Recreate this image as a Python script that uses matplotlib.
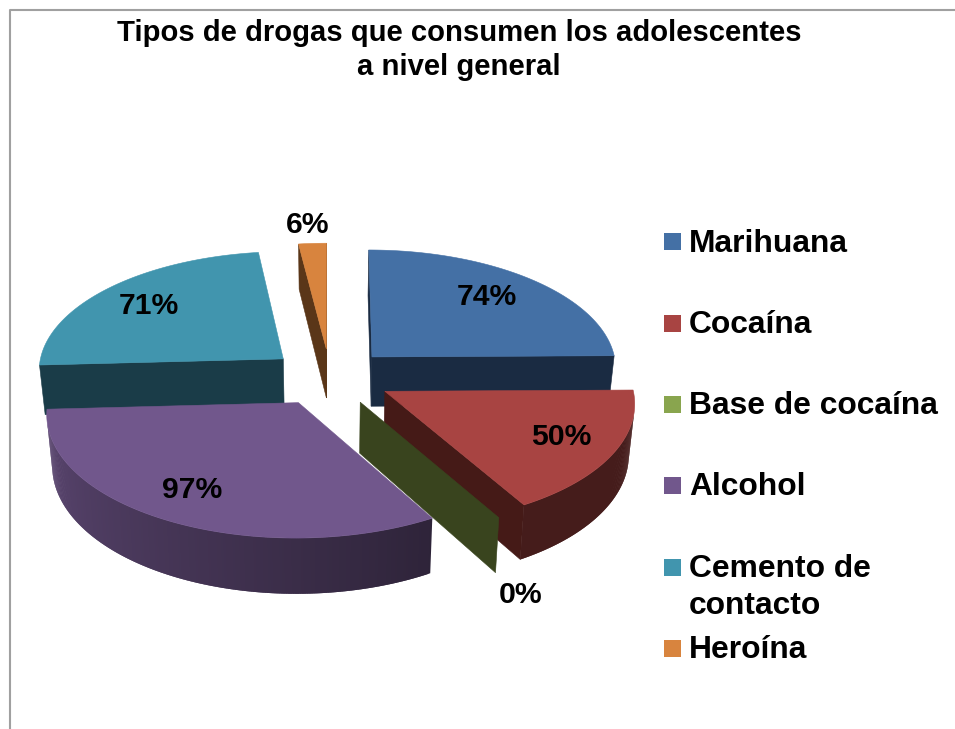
#!/usr/bin/env python

import numpy as np
import matplotlib
matplotlib.use("Agg")
import matplotlib.pyplot as plt
from matplotlib.patches import Polygon, Rectangle

TITLE = "Tipos de drogas que consumen los adolescentes\na nivel general"
categories = ["Marihuana", "Cocaína", "Base de cocaína", "Alcohol",
              "Cemento de\ncontacto", "Heroína"]
values = [74, 50, 0, 97, 71, 6]
top_colors = ["#4470A5", "#A84442", "#89A54E", "#71578C", "#4195AE", "#D8843E"]
side_colors = ["#1A2B42", "#451A17", "#39441E", "#71578C", "#1A3C48", "#5A3618"]

# where the value labels and legend rows sit (pixels)
label_pos = [(487, 297), (561, 437), (521, 595), (192, 490), (149, 306), (308, 225)]
legend_box_y = [241.5, 323.5, 404, 485, 567, 648]
legend_text_y = [252, 333, 414, 495, 577, 658]

# perspective pie geometry, all in pixels except EXPLODE and PERSP
CX, CY = 330, 377
RX, RY = 246, 119.3
HEIGHT = 50
EXPLODE = 0.24
PERSP = 0.085
BOTTOM_SHRINK = 0.02
slice_shift = [1, 3, 0, -3, -2, 0]

FONT = "Liberation Sans"


def project(x, y, z, shift=0):
    """Plane coordinates to pixels; y grows toward the viewer, z=1 is the base"""
    s = 1 / (1 - PERSP * y)
    return (CX + shift + RX * x * s / (1 + BOTTOM_SHRINK * z),
            CY + RY * y * s + HEIGHT * z * s)


def signed_area(quad):
    xs, ys = np.array(quad).T
    return np.sum(xs * np.roll(ys, -1) - np.roll(xs, -1) * ys)


def shade(color, f):
    return tuple(f * c for c in matplotlib.colors.to_rgb(color))


def arc_shade(deg):
    "Light falloff along the rim, brightest on the left of the pie"
    return np.interp(deg, [150, 267], [0.41, 0.82])


def draw_slice(ax, start, stop, top, side, shift):
    bisect = np.radians((start + stop) / 2)
    ox, oy = EXPLODE * np.sin(bisect), -EXPLODE * np.cos(bisect)
    n = max(int(stop - start), 1) * 2
    angles = np.linspace(start, stop, n + 1)
    px = ox + np.sin(np.radians(angles))
    py = oy - np.cos(np.radians(angles))

    # the two cut faces; winding on screen differs between them
    for (ex, ey), flip in (((px[0], py[0]), True), ((px[-1], py[-1]), False)):
        quad = [project(ox, oy, 0, shift), project(ex, ey, 0, shift),
                project(ex, ey, 1, shift), project(ox, oy, 1, shift)]
        if flip:
            quad = quad[::-1]
        if signed_area(quad) > 0:
            ax.add_patch(Polygon(quad, closed=True, fc=side, ec=side, lw=0.4))

    # rim in small steps so the shading can change along it; each step runs
    # under the next one, which keeps seams from showing between them
    for i in range(n):
        j = min(i + 2, n)
        quad = [project(px[i], py[i], 0, shift), project(px[j], py[j], 0, shift),
                project(px[j], py[j], 1, shift), project(px[i], py[i], 1, shift)]
        if signed_area(quad) < 0:
            c = shade(top, arc_shade((angles[i] + angles[i + 1]) / 2))
            ax.add_patch(Polygon(quad, closed=True, fc=c, ec="none"))

    # a zero slice has no top face, only its cut faces
    if stop > start:
        face = [project(ox, oy, 0, shift)] + [project(a, b, 0, shift) for a, b in zip(px, py)]
        ax.add_patch(Polygon(face, closed=True, fc=top, ec=top, lw=0.4))


def main():
    fig = plt.figure(figsize=(9.55, 7.29), dpi=100)
    ax = fig.add_axes([0, 0, 1, 1])
    ax.set_xlim(0, 955)
    ax.set_ylim(729, 0)
    ax.axis("off")

    # chart frame, only the top and left edges are in view
    ax.plot([9.5, 9.5, 955], [729, 9.5, 9.5], color="#A0A0A0", lw=1.5)

    edges = np.concatenate([[0], np.cumsum(values)]) * 360 / np.sum(values)
    # back slices first so the front ones can overlap them
    for i in [0, 5, 4, 3, 1, 2]:
        draw_slice(ax, edges[i], edges[i + 1], top_colors[i], side_colors[i],
                   slice_shift[i])

    for v, (x, y) in zip(values, label_pos):
        ax.text(x, y, "{0}%".format(v), ha="center", va="center",
                fontsize=21.7, fontweight="bold", family=FONT, color="black")

    ax.text(459, 41, TITLE.split("\n")[0], ha="center", va="baseline",
            fontsize=21.1, fontweight="bold", family=FONT)
    ax.text(459, 75, TITLE.split("\n")[1], ha="center", va="baseline",
            fontsize=21.1, fontweight="bold", family=FONT)

    for name, c, by, ty in zip(categories, top_colors, legend_box_y, legend_text_y):
        ax.add_patch(Rectangle((664, by - 8.5), 17, 17, fc=c, ec="none"))
        for j, line in enumerate(name.split("\n")):
            ax.text(689, ty + 37 * j, line, ha="left", va="baseline",
                    fontsize=22.9, fontweight="bold", family=FONT)

    fig.savefig("out.png", dpi=100, facecolor="white")


if __name__ == "__main__":
    main()
